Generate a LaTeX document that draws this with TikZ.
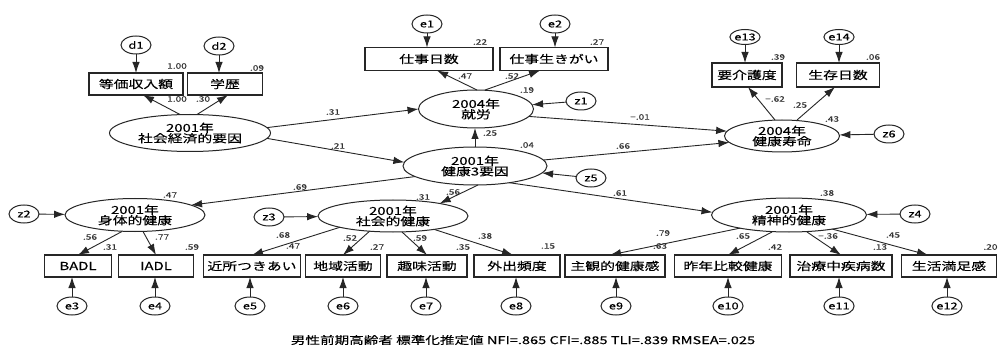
\documentclass[tikz,border=0pt]{standalone}
\usepackage{fontspec}
\usetikzlibrary{arrows.meta,shapes.geometric}
\newfontfamily\jp[FakeStretch=1.35,FakeBold=0.25]{Noto Sans CJK JP}
\begin{document}
\begin{tikzpicture}[x=1pt,y=-1pt,
  every node/.style={inner sep=0pt, outer sep=0pt},
  box/.style={draw=black!85, line width=1.2pt, minimum height=22pt, font=\jp\fontsize{11}{11}\selectfont},
  lat/.style={draw=black!85, line width=1pt, ellipse, align=center, font=\jp\fontsize{11}{10.5}\selectfont},
  err/.style={draw=black!85, line width=1pt, ellipse, minimum width=30pt, minimum height=18pt, font=\jp\fontsize{9.5}{9.5}\selectfont},
  lab/.style={font=\jp\fontsize{7.5}{7.5}\selectfont, text=black!80},
  arr/.style={draw=black!85, line width=0.9pt, -{Latex[length=11pt,width=7.5pt]}},
  capt/.style={font=\jp\fontsize{10.8}{10.8}\selectfont}
]
\useasboundingbox[fill=white] (0,0) rectangle (998,358);

% boxes
\node[box, minimum width=94pt] (inc) at (136,84) {等価収入額};
\node[box, minimum width=75pt] (edu) at (225,84) {学歴};
\node[box, minimum width=128pt, minimum height=23pt] (days) at (429,59) {仕事日数};
\node[box, minimum width=108pt, minimum height=23pt] (yari) at (554,59) {仕事生きがい};
\node[box, minimum width=70pt, minimum height=24pt] (kaigo) at (747,75) {要介護度};
\node[box, minimum width=83pt, minimum height=24pt] (surv) at (838,75) {生存日数};
\node[box, minimum width=67pt] (badl) at (78,266) {BADL};
\node[box, minimum width=75pt] (iadl) at (156,266) {IADL};
\node[box, minimum width=97pt] (kinjo) at (252,266) {近所つきあい};
\node[box, minimum width=75pt] (chiiki) at (343,266) {地域活動};
\node[box, minimum width=80pt] (shumi) at (427,266) {趣味活動};
\node[box, minimum width=86pt] (gai) at (517,266) {外出頻度};
\node[box, minimum width=100pt] (shukan) at (615,266) {主観的健康感};
\node[box, minimum width=107pt] (sakunen) at (728,266) {昨年比較健康};
\node[box, minimum width=102pt] (chiryo) at (841,266) {治療中疾病数};
\node[box, minimum width=95pt] (manzoku) at (949,266) {生活満足感};

% latent ellipses
\node[lat, minimum width=161pt, minimum height=37pt] (ses) at (190,133) {2001年\\社会経済的要因};
\node[lat, minimum width=115pt, minimum height=38pt] (work) at (476,109) {2004年\\就労};
\node[lat, minimum width=144pt, minimum height=38pt] (h3) at (475,166) {2001年\\健康3要因};
\node[lat, minimum width=115pt, minimum height=32pt] (life) at (782,136) {2004年\\健康寿命};
\node[lat, minimum width=140pt, minimum height=33pt] (phys) at (135,215) {2001年\\身体的健康};
\node[lat, minimum width=150pt, minimum height=32pt] (soc) at (393,216) {2001年\\社会的健康};
\node[lat, minimum width=155pt, minimum height=34pt] (mental) at (789,215) {2001年\\精神的健康};

% error terms
\node[err] (d1) at (136,45) {d1};
\node[err] (d2) at (219,46) {d2};
\node[err] (e1) at (427,24) {e1};
\node[err] (e2) at (555,24) {e2};
\node[err, minimum width=28pt, minimum height=15pt] (e13) at (745,37) {e13};
\node[err, minimum width=28pt, minimum height=15pt] (e14) at (839,37) {e14};
\node[err] (z1) at (581,101) {z1};
\node[err] (z5) at (591,178) {z5};
\node[err] (z6) at (889,134) {z6};
\node[err] (z2) at (24,214) {z2};
\node[err] (z3) at (269,217) {z3};
\node[err] (z4) at (915,214) {z4};
\node[err] (e3) at (72,306) {e3};
\node[err] (e4) at (155,306) {e4};
\node[err] (e5) at (250,306) {e5};
\node[err] (e6) at (343,306) {e6};
\node[err] (e7) at (426,306) {e7};
\node[err] (e8) at (516,306) {e8};
\node[err] (e9) at (616,306) {e9};
\node[err] (e10) at (728,306) {e10};
\node[err] (e11) at (839,306) {e11};
\node[err] (e12) at (947,306) {e12};

% arrows top
\draw[arr] (d1) -- (inc);
\draw[arr] (d2.south) -- (d2.south |- edu.north);
\draw[arr] ([xshift=-10pt]ses.north) -- ([xshift=7pt]inc.south);
\draw[arr] ([xshift=7pt]ses.north) -- ([xshift=3pt]edu.south);
\draw[arr] (ses.4) -- (work.west);
\draw[arr] (ses.-4) -- (h3.177);
\draw[arr] (e1.south) -- (e1.south |- days.north);
\draw[arr] (e2.south) -- (e2.south |- yari.north);
\draw[arr] ([xshift=1pt]work.north) -- ([xshift=8pt]days.south);
\draw[arr] ([xshift=9pt]work.north) -- ([xshift=-14pt]yari.south);
\draw[arr] (z1) -- (work);
\draw[arr] (h3.north) -- (h3.north |- work.south);
\draw[arr] (work.-8) -- (life.175);
\draw[arr] (h3.5) -- (life.187);
\draw[arr] ([xshift=-7pt]life.north) -- ([xshift=1pt]kaigo.south);
\draw[arr] ([xshift=15pt]life.north) -- ([xshift=-3pt]surv.south);
\draw[arr] (e13.south) -- (e13.south |- kaigo.north);
\draw[arr] (e14.south) -- (e14.south |- surv.north);
\draw[arr] (z6) -- (life);
\draw[arr] (z5) -- (h3);

% arrows to health factors
\draw[arr] (h3.190) -- (phys.10);
\draw[arr] ([xshift=3pt]h3.south) -- (soc.15);
\draw[arr] (h3.-26) -- (mental.178);
\draw[arr] (z2) -- (phys);
\draw[arr] (z3) -- (soc);
\draw[arr] (z4) -- (mental);

% indicators
\draw[arr] ([xshift=-13pt]phys.south) -- (badl.north);
\draw[arr] ([xshift=8pt]phys.south) -- (iadl.north);
\draw[arr] (soc.192) -- (kinjo.north);
\draw[arr] (soc.213) -- (chiiki.north);
\draw[arr] ([xshift=9pt]soc.south) -- (shumi.north);
\draw[arr] (soc.-18) -- ([xshift=-4pt]gai.north);
\draw[arr] (mental.195) -- ([xshift=-5pt]shukan.north);
\draw[arr] ([xshift=-17pt]mental.south) -- (sakunen.north);
\draw[arr] ([xshift=18pt]mental.south) -- (chiryo.north);
\draw[arr] (mental.-18) -- ([xshift=-21pt]manzoku.north);

% bottom errors
\draw[arr] (e3.north) -- (e3.north |- badl.south);
\draw[arr] (e4.north) -- (e4.north |- iadl.south);
\draw[arr] (e5.north) -- (e5.north |- kinjo.south);
\draw[arr] (e6.north) -- (e6.north |- chiiki.south);
\draw[arr] (e7.north) -- (e7.north |- shumi.south);
\draw[arr] (e8.north) -- (e8.north |- gai.south);
\draw[arr] (e9.north) -- (e9.north |- shukan.south);
\draw[arr] (e10.north) -- (e10.north |- sakunen.south);
\draw[arr] (e11.north) -- (e11.north |- chiryo.south);
\draw[arr] (e12.north) -- (e12.north |- manzoku.south);

% coefficient labels
\node[lab] (l1) at (177,66) {1.00};
\node[lab] (l2) at (257,68) {.09};
\node[lab] (l3) at (177,99) {1.00};
\node[lab] (l4) at (203,99) {.30};
\node[lab] (l5) at (333,112) {.31};
\node[lab] (l6) at (338,146) {.21};
\node[lab] (l7) at (480,42) {.22};
\node[lab] (l8) at (597,42) {.27};
\node[lab] (l9) at (465,76) {.47};
\node[lab] (l10) at (512,76) {.52};
\node[lab] (l11) at (527,90) {.19};
\node[lab] (l12) at (640,117) {−.01};
\node[lab] (l13) at (490,133) {.25};
\node[lab] (l14) at (527,145) {.04};
\node[lab] (l15) at (623,146) {.66};
\node[lab] (l16) at (778,57) {.39};
\node[lab] (l17) at (873,57) {.06};
\node[lab] (l18) at (775,99) {−.62};
\node[lab] (l19) at (800,105) {.25};
\node[lab] (l20) at (832,119) {.43};
\node[lab] (l21) at (170,195) {.47};
\node[lab] (l22) at (300,187) {.69};
\node[lab] (l23) at (90,237) {.56};
\node[lab] (l24) at (110,247) {.31};
\node[lab] (l25) at (162,237) {.77};
\node[lab] (l26) at (192,247) {.59};
\node[lab] (l27) at (283,235) {.68};
\node[lab] (l28) at (293,246) {.47};
\node[lab] (l29) at (423,197) {.31};
\node[lab] (l30) at (453,192) {.56};
\node[lab] (l31) at (620,193) {.61};
\node[lab] (l32) at (350,238) {.52};
\node[lab] (l33) at (377,247) {.27};
\node[lab] (l34) at (420,238) {.59};
\node[lab] (l35) at (463,247) {.35};
\node[lab] (l36) at (485,236) {.38};
\node[lab] (l37) at (548,246) {.15};
\node[lab] (l38) at (663,233) {.79};
\node[lab] (l39) at (660,246) {.63};
\node[lab] (l40) at (827,193) {.38};
\node[lab] (l41) at (743,236) {.65};
\node[lab] (l42) at (775,247) {.42};
\node[lab] (l43) at (828,236) {−.36};
\node[lab] (l44) at (880,247) {.13};
\node[lab] (l45) at (893,235) {.45};
\node[lab, anchor=east] (l46) at (997.5,247) {.20};

% caption
\node[capt] (cap) at (523,340) {男性前期高齢者 標準化推定値 NFI=.865 CFI=.885 TLI=.839 RMSEA=.025};
\end{tikzpicture}
\end{document}
